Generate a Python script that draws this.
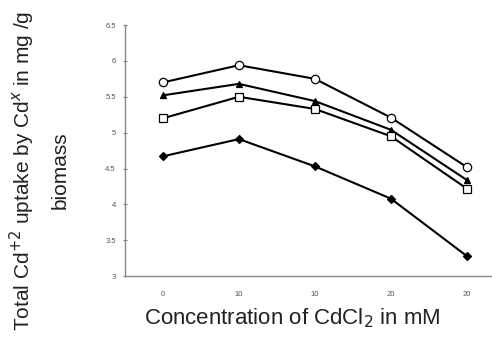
import numpy as np, pandas as pd, matplotlib
matplotlib.use("Agg")
import matplotlib.pyplot as plt, seaborn as sns

# data
x_labels = ["0", "10", "10", "20", "20"]
s_circle = [5.70, 5.94, 5.75, 5.21, 4.52]
s_triangle = [5.52, 5.68, 5.44, 5.04, 4.34]
s_square = [5.20, 5.50, 5.33, 4.95, 4.22]
s_diamond = [4.67, 4.91, 4.53, 4.08, 3.28]
y_ticks = [3, 3.5, 4, 4.5, 5, 5.5, 6, 6.5]
y_tick_labels = ["3", "3.5", "4", "4.5", "5", "5.5", "6", "6.5"]

sns.set_style("white")
plt.rcParams["font.family"] = ["Liberation Sans", "DejaVu Sans"]

pos = np.arange(len(x_labels))
df = pd.DataFrame({"x": pos, "circle": s_circle, "triangle": s_triangle,
                   "square": s_square, "diamond": s_diamond})

fig = plt.figure(figsize=(4.92, 3.43), dpi=100)
ax = fig.add_axes([0.254, 0.195, 0.772, 0.732])

styles = [("circle", "o", "white", 6), ("triangle", "^", "black", 5),
          ("square", "s", "white", 5.5), ("diamond", "D", "black", 4)]
for col, mk, fc, ms in styles:
    sns.lineplot(data=df, x="x", y=col, ax=ax, color="black", lw=1.5,
                 marker=mk, markersize=ms, markerfacecolor=fc,
                 markeredgecolor="black", markeredgewidth=0.9)

ax.set_xlim(-0.5, len(x_labels) - 0.5)
ax.set_ylim(3, 6.5)
ax.set_xticks(pos)
ax.set_xticklabels(x_labels)
ax.set_xticks(np.arange(-0.5, len(x_labels)), minor=True)
ax.tick_params(axis="x", which="major", length=0, labelsize=5.5, labelcolor="#555555", pad=11)
ax.tick_params(axis="x", which="minor", length=3, direction="inout", color="#777777", width=0.8)
ax.set_yticks(y_ticks)
ax.set_yticklabels(y_tick_labels)
ax.tick_params(axis="y", length=3, direction="inout", color="#777777", width=0.8,
               labelsize=5.5, labelcolor="#555555", left=True, pad=5)

for s in ["top", "right"]:
    ax.spines[s].set_visible(False)
for s in ["left", "bottom"]:
    ax.spines[s].set_color("#888888")
    ax.spines[s].set_linewidth(1.0)

ax.set_xlabel("Concentration of CdCl$_2$ in mM", fontsize=16, color="#222222")
ax.xaxis.set_label_coords(0.44, -0.12)
ax.set_ylabel("Total Cd$^{+2}$ uptake by Cd$^{x}$ in mg /g\nbiomass", fontsize=15,
              color="#222222", linespacing=1.9)
ax.yaxis.set_label_coords(-0.145, 0.42)

plt.savefig("out.png", dpi=100)
